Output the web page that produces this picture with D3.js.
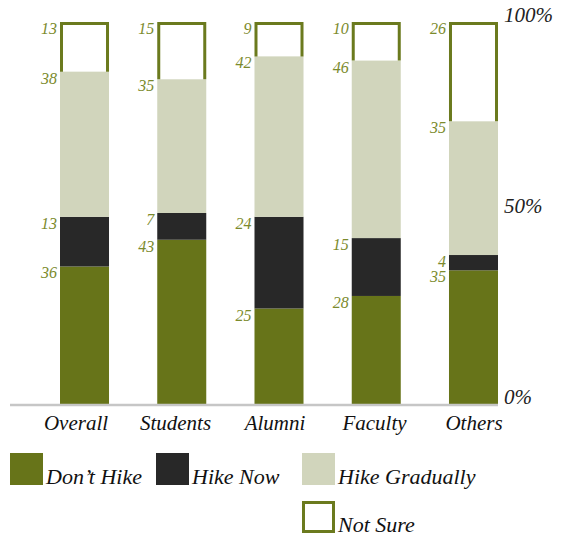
<!DOCTYPE html>
<html>
<head>
<meta charset="utf-8">
<script src="https://cdn.jsdelivr.net/npm/d3@7/dist/d3.min.js"></script>
<style>
  html, body { margin: 0; padding: 0; background: #fff; }
  svg { display: block; }
  text { font-family: "Liberation Serif", "DejaVu Serif", serif; font-style: italic; }
</style>
</head>
<body>
<svg id="chart" width="569" height="537"></svg>
<script>
// Survey answers by group, in percent
const categories = ["Overall", "Students", "Alumni", "Faculty", "Others"];
const seriesNames = ["Don\u2019t Hike", "Hike Now", "Hike Gradually", "Not Sure"];
const dontHike      = [36, 43, 25, 28, 35];
const hikeNow       = [13, 7, 24, 15, 4];
const hikeGradually = [38, 35, 42, 46, 35];
const notSure       = [13, 15, 9, 10, 26];
const tickValues = [0, 0.5, 1];
const tickLabels = ["0%", "50%", "100%"];

const seriesValues = [dontHike, hikeNow, hikeGradually, notSure];
const colors = ["#677419", "#282828", "#d1d5bc", "#ffffff"];
const olive = "#6b7a1e";
const labelColor = "#7b8a2c";

const rows = categories.map((c, i) => {
  const r = { category: c };
  seriesNames.forEach((s, j) => { r[s] = seriesValues[j][i]; });
  return r;
});

const svg = d3.select("#chart");

const x = d3.scaleBand().domain(categories).range([60, 498]).paddingInner(0.496).paddingOuter(0);
const xLabel = d3.scalePoint().domain(categories).range([76, 474]);
const y = d3.scaleLinear().domain([0, 1]).range([404, 22]);

const stacked = d3.stack().keys(seriesNames).offset(d3.stackOffsetExpand)(rows);

// bars
const layers = svg.append("g").selectAll("g")
  .data(stacked).join("g");

layers.each(function (layer, li) {
  const g = d3.select(this);
  if (li < 3) {
    g.selectAll("rect").data(layer).join("rect")
      .attr("x", d => x(d.data.category))
      .attr("width", x.bandwidth())
      .attr("y", d => y(d[1]))
      .attr("height", d => y(d[0]) - y(d[1]))
      .attr("fill", colors[li]);
  } else {
    // open-bottomed outline for the "not sure" share
    g.selectAll("path").data(layer).join("path")
      .attr("d", d => {
        const x0 = x(d.data.category) + 1.5, x1 = x(d.data.category) + x.bandwidth() - 1.5;
        const yb = y(d[0]), yt = y(d[1]) + 1.5;
        return `M${x0},${yb}V${yt}H${x1}V${yb}`;
      })
      .attr("fill", "none")
      .attr("stroke", olive)
      .attr("stroke-width", 3);
  }
});

// value labels at the top of each segment
layers.each(function (layer, li) {
  d3.select(this).selectAll("text.val").data(layer).join("text")
    .attr("class", "val")
    .attr("x", d => x(d.data.category) - 3)
    .attr("y", d => y(d[1]) + 12)
    .attr("text-anchor", "end")
    .attr("font-size", 16)
    .attr("fill", labelColor)
    .text(d => seriesValues[li][categories.indexOf(d.data.category)]);
});

// baseline
svg.append("line")
  .attr("x1", 10).attr("x2", 498)
  .attr("y1", y(0) + 1).attr("y2", y(0) + 1)
  .attr("stroke", "#c6c6c6").attr("stroke-width", 2.5);

// percent ticks on the right
svg.append("g").selectAll("text").data(tickValues).join("text")
  .attr("x", 504)
  .attr("y", d => y(d))
  .attr("font-size", 21)
  .attr("fill", "#222")
  .text((d, i) => tickLabels[i]);

// category labels
svg.append("g").selectAll("text").data(categories).join("text")
  .attr("x", d => xLabel(d))
  .attr("y", 430)
  .attr("text-anchor", "middle")
  .attr("font-size", 21)
  .attr("fill", "#111")
  .text(d => d);

// legend
const legendPos = [[10, 453], [156, 453], [302, 453], [302, 501]];
const legend = svg.append("g").selectAll("g").data(seriesNames).join("g")
  .attr("transform", (d, i) => `translate(${legendPos[i][0]},${legendPos[i][1]})`);

legend.append("rect")
  .attr("x", (d, i) => i === 3 ? 1.5 : 0)
  .attr("y", (d, i) => i === 3 ? 1.5 : 0)
  .attr("width", (d, i) => i === 3 ? 30 : 33)
  .attr("height", (d, i) => i === 3 ? 29 : 32)
  .attr("fill", (d, i) => colors[i])
  .attr("stroke", (d, i) => i === 3 ? olive : "none")
  .attr("stroke-width", 3);

legend.append("text")
  .attr("x", 36)
  .attr("y", 31)
  .attr("font-size", 22)
  .attr("fill", "#111")
  .text(d => d);
</script>
</body>
</html>
